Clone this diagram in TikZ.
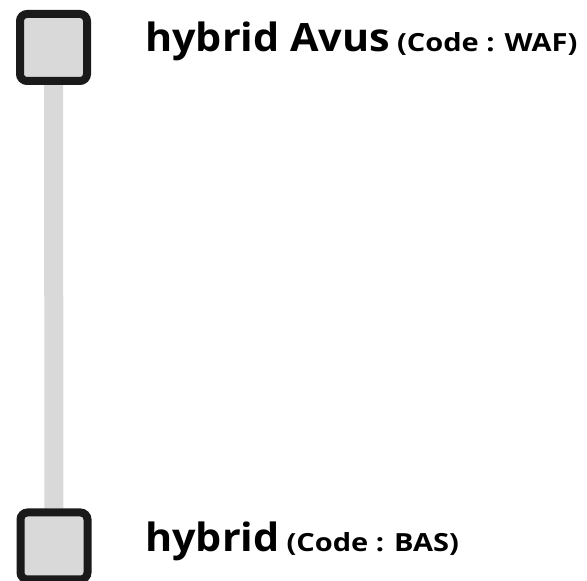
\documentclass[tikz,border=0pt]{standalone}
\usepackage{fontspec}
\setmainfont{Open Sans}
\newfontfamily\namefont{Open Sans}[FakeStretch=1.06]
\newfontfamily\codefont{Open Sans}[FakeStretch=1.16]
\usetikzlibrary{backgrounds}
\definecolor{stepgray}{HTML}{D9D9D9}
\definecolor{stepedge}{HTML}{1A1A1A}
\tikzset{
  stepbox/.style={draw=stepedge,fill=stepgray,line width=8pt,rounded corners=7pt,
    minimum size=67pt,inner sep=0pt},
  steplabel/.style={anchor=base west,inner sep=0pt,font=\bfseries},
  stepbar/.style={draw=stepgray,line width=19pt}
}
\newcommand{\bigname}[1]{{\namefont\bfseries\fontsize{39}{46}\selectfont #1}}
\newcommand{\codename}[1]{{\codefont\bfseries\fontsize{25}{30}\selectfont #1}}

\begin{document}
\begin{tikzpicture}[x=1pt,y=1pt]
  \useasboundingbox (0,0) rectangle (587,581);
  % the two steps
  \node[stepbox] (waf) at (53.5,533.5) {};
  \node[stepbox] (bas) at (54,35) {};
  % labels
  \node[steplabel] (waflabel) at (145,529) {\bigname{hybrid Avus}\hspace{7pt}\codename{(Code : WAF)}};
  \node[steplabel] (baslabel) at (145,29) {\bigname{hybrid}\hspace{7pt}\codename{(Code : BAS)}};
  % bar behind the boxes
  \begin{scope}[on background layer]
    \draw[stepbar] (waf) -- (bas);
  \end{scope}
\end{tikzpicture}
\end{document}
